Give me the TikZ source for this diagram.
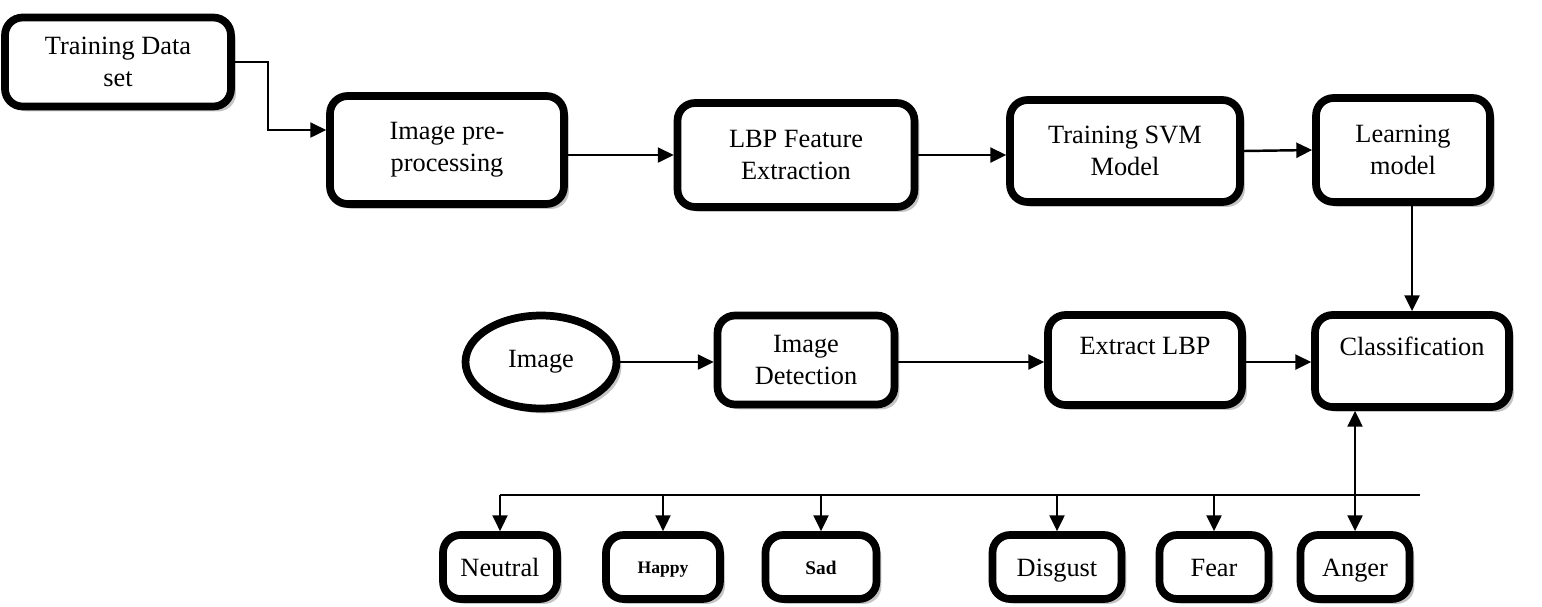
\documentclass[tikz,border=0pt]{standalone}
\usepackage{fontspec}
\setmainfont{Liberation Serif}
\usetikzlibrary{arrows.meta,shadows,shapes.geometric}

\begin{document}
\begin{tikzpicture}[x=0.02cm,y=-0.02cm,
    box/.style={draw,line width=4.4pt,rounded corners=10pt,fill=white,align=center,
      font=\fontsize{15}{18}\selectfont,inner sep=2pt,
      drop shadow={shadow xshift=2.8pt,shadow yshift=-2.8pt,fill=black!45,opacity=.5}},
    uptext/.style={text height=11pt,text depth=17pt},
    emo/.style={text height=12pt,text depth=1pt,minimum height=1.28cm},
    boldsm/.style={emo,font=\bfseries\fontsize{10}{12}\selectfont,text height=9pt,text depth=2pt},
    boldmd/.style={emo,font=\bfseries\fontsize{11}{13}\selectfont,text height=9pt,text depth=1pt},
    arr/.style={line width=1.4pt,-{Triangle[length=9pt,width=8.5pt]}},
    dblarr/.style={line width=1.4pt,{Triangle[length=9pt,width=8.5pt]}-{Triangle[length=9pt,width=8.5pt]}}]
  \useasboundingbox (0,0) rectangle (1542,606);

  % training row
  \node[box,minimum width=4.52cm,minimum height=1.78cm] (data) at (118,62) {Training Data\\set};
  \node[box,minimum width=4.68cm,minimum height=2.16cm] (prep) at (447,150) {Image pre-\\processing};
  \node[box,minimum width=4.74cm,minimum height=2.08cm] (lbp) at (796,155) {LBP Feature\\Extraction};
  \node[box,minimum width=4.6cm,minimum height=2.04cm] (svm) at (1125,151) {Training SVM\\Model};
  \node[box,minimum width=3.48cm,minimum height=2.08cm] (learn) at (1403,150) {Learning\\model};

  % testing row
  \node[box,ellipse,minimum width=3.02cm,minimum height=1.86cm] (img) at (541,362) {Image};
  \node[box,minimum width=3.54cm,minimum height=1.78cm] (det) at (806,360) {Image\\Detection};
  \node[box,uptext,minimum width=3.88cm,minimum height=1.8cm] (ext) at (1145,360) {Extract LBP};
  \node[box,uptext,minimum width=3.88cm,minimum height=1.84cm] (cls) at (1412,361) {Classification};

  % emotions
  \foreach \name/\cx/\w/\opt/\txt in {neutral/500/2.28/emo/Neutral,
      happy/663/2.28/boldsm/Happy, sad/821/2.22/boldmd/Sad,
      disgust/1057/2.58/emo/Disgust, fear/1214/2.18/emo/Fear, anger/1355/2.18/emo/Anger}
    \node[box,\opt,minimum width=\w cm] (\name) at (\cx,567) {\txt};

  \coordinate (bend) at (268,130);
  \coordinate (busL) at (500,495);
  \coordinate (busR) at (1420,495);

  \draw[arr] (data.east) -| (bend) -- (bend -| prep.west);
  \draw[arr] (prep.east |- lbp.west) -- (lbp.west);
  \draw[arr] (lbp.east) -- (lbp.east -| svm.west);
  \draw[arr] (svm.east) -- (learn.west);
  \draw[arr] (learn.south -| cls.north) -- (cls.north);

  \draw[arr] (img.east) -- (img.east -| det.west);
  \draw[arr] (det.east |- img.east) -- (img.east -| ext.west);
  \draw[arr] (ext.east |- img.east) -- (img.east -| cls.west);

  \draw[line width=1.4pt] (busL) -- (busR);
  \foreach \name in {neutral,happy,sad,disgust,fear}
    \draw[arr] (\name.north |- busL) -- (\name.north);
  \draw[dblarr] (cls.south -| anger.north) -- (anger.north);
\end{tikzpicture}
\end{document}
